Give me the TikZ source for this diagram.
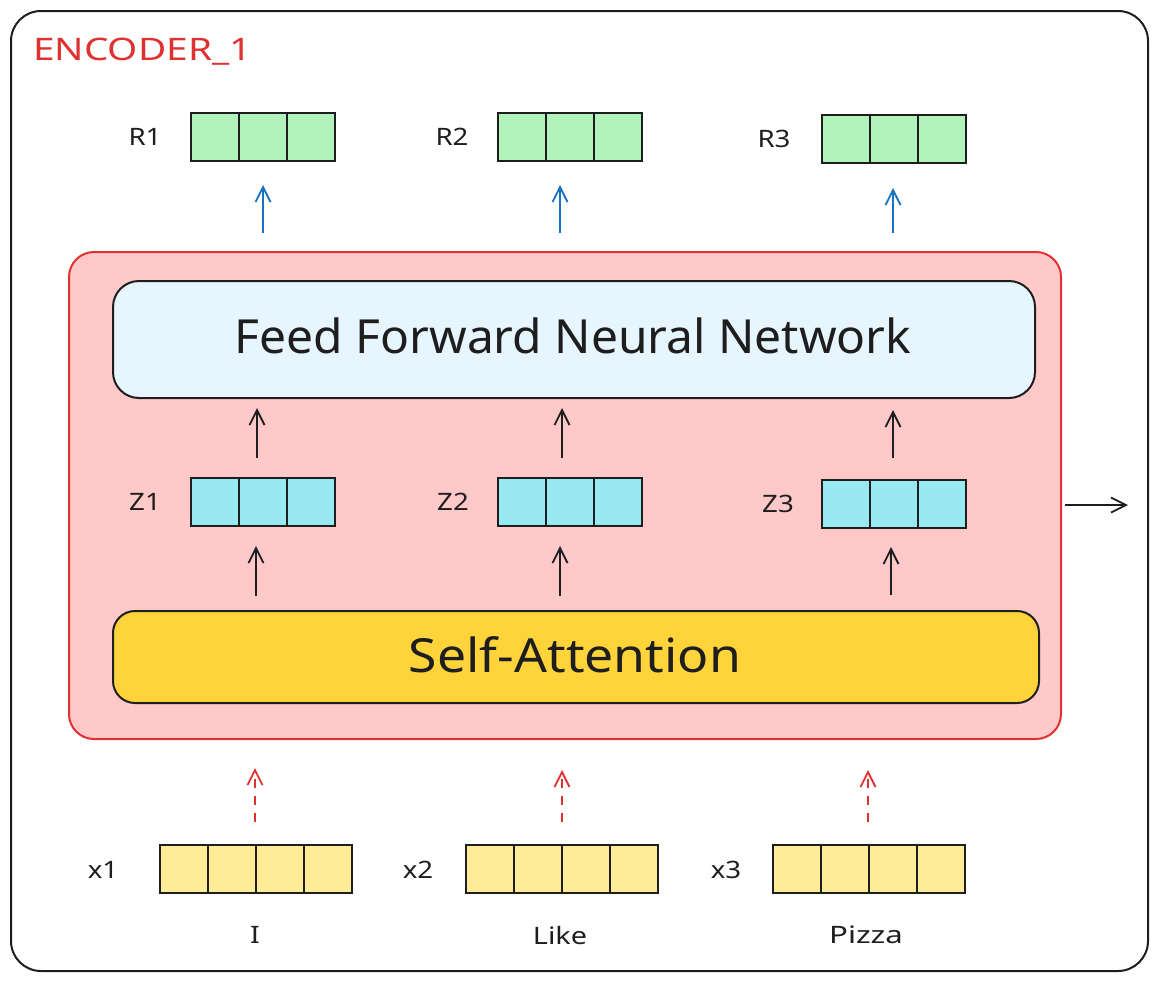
\documentclass[tikz,border=0pt]{standalone}
\usepackage{fontspec}
\setmainfont{Noto Sans}
\usetikzlibrary{arrows.meta}
\definecolor{ink}{HTML}{1E1E1E}
\definecolor{redline}{HTML}{E03131}
\definecolor{blueline}{HTML}{1971C2}
\definecolor{greencell}{HTML}{B2F2BB}
\definecolor{cyancell}{HTML}{99E9F2}
\definecolor{yellowcell}{HTML}{FFEC99}
\definecolor{blockfill}{HTML}{FFC9C9}
\definecolor{ffnnfill}{HTML}{E7F5FF}
\definecolor{safill}{HTML}{FFD43B}
\newcommand\mkvec[5]{%
  \node[vecbox, fill=#5, minimum width={48*#4}, anchor=north west] (#1) at (#2,#3) {};
  \foreach \i in {1,...,\numexpr#4-1\relax}
    \draw[ink, line width=2pt] (#1.north west) ++(48*\i,0) -- ++(0,48);
}
\newcommand\wide[2]{\scalebox{#1}[1]{#2}}
\begin{document}
\begin{tikzpicture}[x=1pt,y=-1pt,
  vecbox/.style={draw=ink, line width=2pt, minimum height=48, inner sep=0pt, outer sep=0pt},
  lbl/.style={text=ink, font=\fontsize{24}{28}\selectfont, inner sep=0pt},
  bigtxt/.style={text=ink, font=\fontsize{47}{56}\selectfont},
  tip/.style={-{Straight Barb[length=15pt,width=15pt,line width=1.8pt]}},
  arr/.style={tip, draw=ink, line width=1.8pt},
  bluearr/.style={tip, draw=blueline, line width=1.8pt},
  redarr/.style={tip, draw=redline, line width=1.8pt, dash pattern=on 9pt off 8pt}]
\useasboundingbox (0,0) rectangle (1156,980);
% outer frame
\node[draw=ink, line width=2pt, rounded corners=30pt, minimum width=1137, minimum height=960, anchor=north west, inner sep=0pt] (frame) at (10,10) {};
\node[text=redline, font=\fontsize{31}{36}\selectfont, anchor=west, inner sep=0pt] (enc) at (33,52) {\wide{1.25}{ENCODER\_1}};
% encoder block
\node[draw=redline, fill=blockfill, line width=2pt, rounded corners=25pt, minimum width=992, minimum height=487, anchor=north west, inner sep=0pt] (block) at (68,251) {};
\node[draw=ink, fill=ffnnfill, line width=2pt, rounded corners=26pt, minimum width=922, minimum height=117, anchor=north west, inner sep=0pt] (ffnn) at (112,280) {};
\node[bigtxt] (ffnntxt) at (573,336) {\wide{1.02}{Feed Forward Neural Network}};
\node[draw=ink, fill=safill, line width=2pt, rounded corners=22pt, minimum width=926, minimum height=92, anchor=north west, inner sep=0pt] (sa) at (112,610) {};
\node[bigtxt] (satxt) at (575,655) {\wide{1.1}{Self-Attention}};
% R vectors
\mkvec{r1}{191}{113}{3}{greencell}
\mkvec{r2}{498}{113}{3}{greencell}
\mkvec{r3}{822}{115}{3}{greencell}
\node[lbl] (r1l) at (145,137) {\wide{1.15}{R1}};
\node[lbl] (r2l) at (452,137) {\wide{1.15}{R2}};
\node[lbl] (r3l) at (774,139) {\wide{1.15}{R3}};
% Z vectors
\mkvec{z1}{191}{478}{3}{cyancell}
\mkvec{z2}{498}{478}{3}{cyancell}
\mkvec{z3}{822}{480}{3}{cyancell}
\node[lbl] (z1l) at (145,502) {\wide{1.15}{Z1}};
\node[lbl] (z2l) at (453,502) {\wide{1.15}{Z2}};
\node[lbl] (z3l) at (778,504) {\wide{1.15}{Z3}};
% X vectors
\mkvec{x1}{160}{845}{4}{yellowcell}
\mkvec{x2}{466}{845}{4}{yellowcell}
\mkvec{x3}{773}{845}{4}{yellowcell}
\node[lbl] (x1l) at (103,870) {\wide{1.15}{x1}};
\node[lbl] (x2l) at (418,870) {\wide{1.15}{x2}};
\node[lbl] (x3l) at (726,870) {\wide{1.15}{x3}};
\node[lbl] (w1) at (255,935) {\wide{1.2}{I}};
\node[lbl] (w2) at (560,935) {\wide{1.2}{Like}};
\node[lbl] (w3) at (866,935) {\wide{1.3}{Pizza}};
% arrow coordinates
\coordinate (b1s) at (263,233); \coordinate (b1e) at (263,185);
\coordinate (b2s) at (560,233); \coordinate (b2e) at (560,185);
\coordinate (b3s) at (893,233); \coordinate (b3e) at (893,188);
\coordinate (k1s) at (257,458); \coordinate (k1e) at (257,408);
\coordinate (k2s) at (562,458); \coordinate (k2e) at (562,408);
\coordinate (k3s) at (893,458); \coordinate (k3e) at (893,410);
\coordinate (m1s) at (256,596); \coordinate (m1e) at (256,546);
\coordinate (m2s) at (560,596); \coordinate (m2e) at (560,546);
\coordinate (m3s) at (891,595); \coordinate (m3e) at (891,547);
\coordinate (d1s) at (255,822); \coordinate (d1e) at (255,768);
\coordinate (d2s) at (562,822); \coordinate (d2e) at (562,770);
\coordinate (d3s) at (868,822); \coordinate (d3e) at (868,770);
\coordinate (outs) at (1065,505); \coordinate (oute) at (1128,505);
\draw[bluearr] (b1s) -- (b1e);
\draw[bluearr] (b2s) -- (b2e);
\draw[bluearr] (b3s) -- (b3e);
\draw[arr] (k1s) -- (k1e);
\draw[arr] (k2s) -- (k2e);
\draw[arr] (k3s) -- (k3e);
\draw[arr] (m1s) -- (m1e);
\draw[arr] (m2s) -- (m2e);
\draw[arr] (m3s) -- (m3e);
\draw[redarr] (d1s) -- (d1e);
\draw[redarr] (d2s) -- (d2e);
\draw[redarr] (d3s) -- (d3e);
\draw[arr] (outs) -- (oute);
\end{tikzpicture}
\end{document}
